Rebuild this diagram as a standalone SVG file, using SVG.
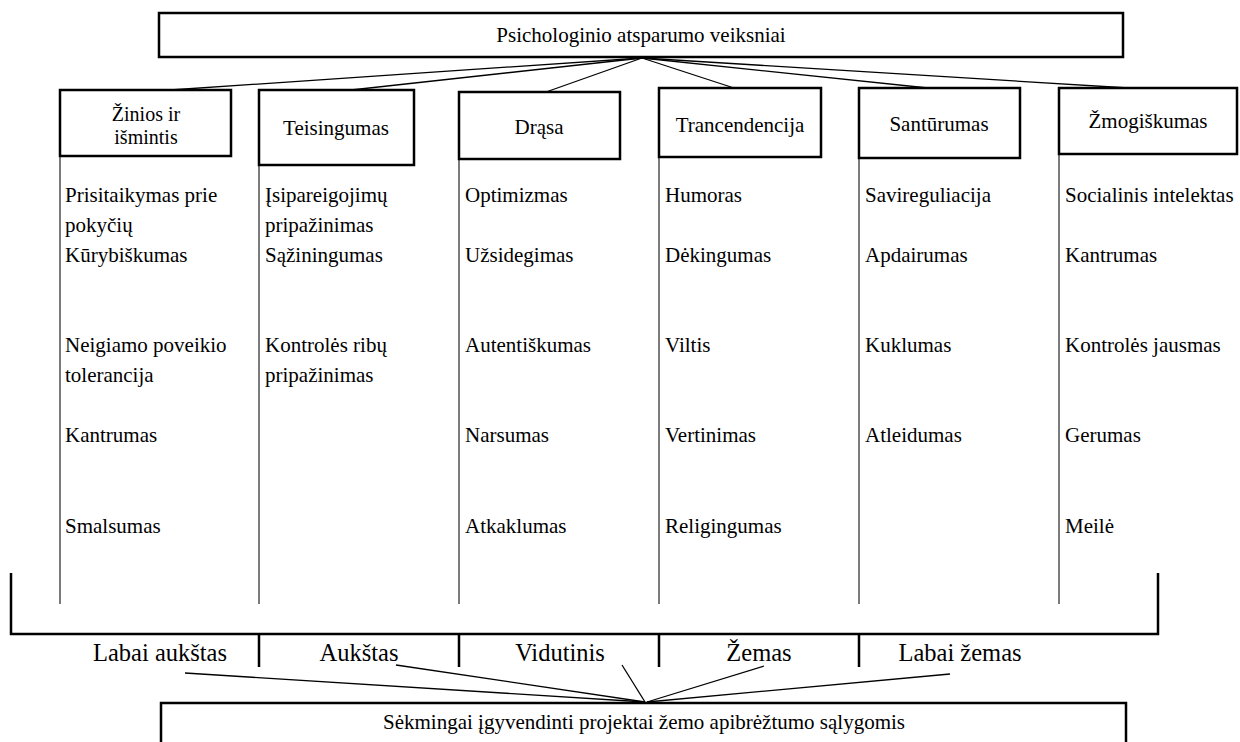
<svg xmlns="http://www.w3.org/2000/svg" width="1240" height="742" viewBox="0 0 1240 742" font-family="'Liberation Serif', 'DejaVu Serif', serif">
<style>
.box{fill:#fff;stroke:#000;stroke-width:2.5}
.t{font-family:'Liberation Serif','DejaVu Serif',serif;font-size:21px;fill:#000}
.c{text-anchor:middle}
.lbl{font-family:'Liberation Serif','DejaVu Serif',serif;font-size:24.5px;fill:#000;text-anchor:middle}
.conn{stroke:#000;stroke-width:1.3;fill:none}
.col{stroke:#5a5a5a;stroke-width:1.6;fill:none}
.thick{stroke:#000;stroke-width:2.5;fill:none}
</style>
<rect width="1240" height="742" fill="#fff"/>
<g id="connectors">
<line class="conn" x1="642" y1="58" x2="170" y2="90"/>
<line class="conn" x1="642" y1="58" x2="351" y2="90"/>
<line class="conn" x1="642" y1="58" x2="546" y2="92"/>
<line class="conn" x1="642" y1="58" x2="734" y2="88"/>
<line class="conn" x1="642" y1="58" x2="928" y2="88"/>
<line class="conn" x1="642" y1="58" x2="1129" y2="88"/>
<line class="col" x1="60" y1="156" x2="60" y2="604"/>
<line class="col" x1="259" y1="166" x2="259" y2="604"/>
<line class="col" x1="459" y1="159" x2="459" y2="604"/>
<line class="col" x1="659" y1="157" x2="659" y2="604"/>
<line class="col" x1="859" y1="158" x2="859" y2="604"/>
<line class="col" x1="1059" y1="154" x2="1059" y2="604"/>
<polyline class="thick" points="11,573 11,634 1158,634 1158,573"/>
<line class="thick" x1="259" y1="634" x2="259" y2="667"/>
<line class="thick" x1="459" y1="634" x2="459" y2="667"/>
<line class="thick" x1="659" y1="634" x2="659" y2="667"/>
<line class="thick" x1="859" y1="634" x2="859" y2="667"/>
<line class="conn" x1="185" y1="673" x2="645" y2="702"/>
<line class="conn" x1="396" y1="665" x2="645" y2="702"/>
<line class="conn" x1="622" y1="665" x2="645" y2="702"/>
<line class="conn" x1="764" y1="666" x2="647" y2="702"/>
<line class="conn" x1="950" y1="674" x2="647" y2="702"/>
</g>
<g id="top">
<rect class="box" x="159" y="13" width="964" height="44"/>
<text class="t c" x="641" y="42">Psichologinio atsparumo veiksniai</text>
</g>
<g id="zinios">
<rect class="box" x="60" y="90" width="171" height="66"/>
<text class="t c" x="146" y="121" style="font-size:20px">Žinios ir</text>
<text class="t c" x="146" y="144" style="font-size:20px">išmintis</text>
</g>
<g id="teisingumas">
<rect class="box" x="259" y="90" width="155" height="75"/>
<text class="t c" x="336" y="135">Teisingumas</text>
</g>
<g id="drasa">
<rect class="box" x="459" y="92" width="161" height="67"/>
<text class="t c" x="539" y="134">Drąsa</text>
</g>
<g id="trancendencija">
<rect class="box" x="659" y="88" width="162" height="69"/>
<text class="t c" x="740" y="132">Trancendencija</text>
</g>
<g id="santurumas">
<rect class="box" x="859" y="88" width="161" height="70"/>
<text class="t c" x="939" y="131">Santūrumas</text>
</g>
<g id="zmogiskumas">
<rect class="box" x="1059" y="88" width="178" height="66"/>
<text class="t c" x="1148" y="128">Žmogiškumas</text>
</g>
<g id="list-zinios" class="t">
<text x="65" y="202">Prisitaikymas prie</text>
<text x="65" y="232">pokyčių</text>
<text x="65" y="262">Kūrybiškumas</text>
<text x="65" y="352">Neigiamo poveikio</text>
<text x="65" y="382">tolerancija</text>
<text x="65" y="442">Kantrumas</text>
<text x="65" y="533">Smalsumas</text>
</g>
<g id="list-teisingumas" class="t">
<text x="265" y="202">Įsipareigojimų</text>
<text x="265" y="232">pripažinimas</text>
<text x="265" y="262">Sąžiningumas</text>
<text x="265" y="352">Kontrolės ribų</text>
<text x="265" y="382">pripažinimas</text>
</g>
<g id="list-drasa" class="t">
<text x="465" y="202">Optimizmas</text>
<text x="465" y="262">Užsidegimas</text>
<text x="465" y="352">Autentiškumas</text>
<text x="465" y="442">Narsumas</text>
<text x="465" y="533">Atkaklumas</text>
</g>
<g id="list-trancendencija" class="t">
<text x="665" y="202">Humoras</text>
<text x="665" y="262">Dėkingumas</text>
<text x="665" y="352">Viltis</text>
<text x="665" y="442">Vertinimas</text>
<text x="665" y="533">Religingumas</text>
</g>
<g id="list-santurumas" class="t">
<text x="865" y="202">Savireguliacija</text>
<text x="865" y="262">Apdairumas</text>
<text x="865" y="352">Kuklumas</text>
<text x="865" y="442">Atleidumas</text>
</g>
<g id="list-zmogiskumas" class="t">
<text x="1065" y="202">Socialinis intelektas</text>
<text x="1065" y="262">Kantrumas</text>
<text x="1065" y="352">Kontrolės jausmas</text>
<text x="1065" y="442">Gerumas</text>
<text x="1065" y="533">Meilė</text>
</g>
<g id="levels">
<text class="lbl" x="160" y="661">Labai aukštas</text>
<text class="lbl" x="359" y="661">Aukštas</text>
<text class="lbl" x="560" y="661">Vidutinis</text>
<text class="lbl" x="759" y="661">Žemas</text>
<text class="lbl" x="960" y="661">Labai žemas</text>
</g>
<g id="bottom">
<rect class="box" x="161" y="703" width="965" height="60"/>
<text class="t c" x="644" y="729">Sėkmingai įgyvendinti projektai žemo apibrėžtumo sąlygomis</text>
</g>
</svg>
